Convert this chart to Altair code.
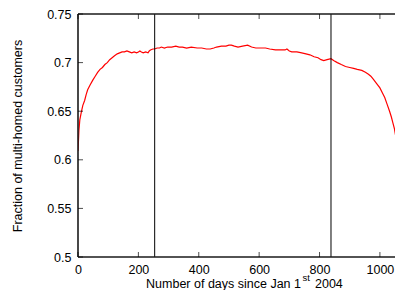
import altair as alt
import pandas as pd

# ---- data ----
days = [0, 3, 6, 11, 16, 22, 27, 32, 40, 49, 57, 65, 73, 81, 89, 97, 105, 113,
        121, 130, 138, 146, 154, 162, 170, 178, 186, 194, 200, 205, 210, 216,
        224, 232, 236, 240, 248, 254, 262, 270, 276, 286, 297, 310, 324, 335,
        346, 360, 375, 395, 410, 425, 438, 450, 459, 475, 490, 500, 508, 518,
        530, 545, 562, 575, 589, 605, 621, 635, 654, 670, 686, 692, 700, 708,
        725, 741, 755, 768, 782, 795, 805, 814, 825, 838, 848, 859, 872, 886,
        900, 913, 925, 940, 952, 962, 970, 978, 988, 1000, 1008, 1016, 1024,
        1032, 1038, 1043, 1048, 1052, 1056]
fraction = [0.609, 0.630, 0.641, 0.649, 0.656, 0.661, 0.667, 0.672, 0.677,
            0.682, 0.686, 0.690, 0.693, 0.695, 0.698, 0.700, 0.703, 0.705,
            0.707, 0.709, 0.710, 0.711, 0.711, 0.712, 0.711, 0.710, 0.711,
            0.710, 0.711, 0.712, 0.711, 0.710, 0.711, 0.710, 0.712, 0.713,
            0.714, 0.714, 0.715, 0.715, 0.716, 0.715, 0.716, 0.716, 0.717,
            0.716, 0.716, 0.715, 0.716, 0.715, 0.715, 0.714, 0.714, 0.715,
            0.716, 0.717, 0.717, 0.718, 0.718, 0.717, 0.716, 0.717, 0.718,
            0.716, 0.715, 0.715, 0.715, 0.714, 0.713, 0.713, 0.713, 0.714,
            0.712, 0.711, 0.711, 0.710, 0.709, 0.708, 0.706, 0.705, 0.703,
            0.702, 0.703, 0.704, 0.702, 0.700, 0.698, 0.696, 0.695, 0.694,
            0.693, 0.692, 0.690, 0.688, 0.686, 0.683, 0.679, 0.674, 0.669,
            0.664, 0.657, 0.650, 0.644, 0.638, 0.632, 0.625, 0.618]
event_days = [254, 838]
x_ticks = [0, 200, 400, 600, 800, 1000]
y_ticks = [0.5, 0.55, 0.6, 0.65, 0.7, 0.75]
x_domain = [0, 1050]
y_domain = [0.5, 0.75]

FONT = "Liberation Sans"
W, H = 317, 243

df = pd.DataFrame({"day": days, "frac": fraction})
ev = pd.DataFrame({"day": event_days})
xt = pd.DataFrame({"t": x_ticks})
yt = pd.DataFrame({"t": y_ticks})
one = pd.DataFrame({"a": [0]})

xs = alt.Scale(domain=x_domain, nice=False, zero=False)
ys = alt.Scale(domain=y_domain, nice=False, zero=False)

x_axis = alt.Axis(values=x_ticks, format="d", domain=False, ticks=False,
                  grid=False, labelFont=FONT, labelFontSize=12.5,
                  labelColor="black", labelPadding=6, labelFlush=False,
                  title=None)
y_axis = alt.Axis(values=y_ticks, format="~g", domain=False, ticks=False,
                  grid=False, labelFont=FONT, labelFontSize=12.5,
                  labelColor="black", labelPadding=7, labelFlush=False,
                  title="Fraction of multi-homed customers",
                  titleFont=FONT, titleFontSize=12.5, titleFontWeight="normal",
                  titleColor="black", titleX=-60.5, titleY=121.5,
                  titleAngle=270, titleAlign="center", titleBaseline="middle")

line = alt.Chart(df).mark_line(color="#ff0000", strokeWidth=1.2, clip=True).encode(
    x=alt.X("day:Q", scale=xs, axis=x_axis),
    y=alt.Y("frac:Q", scale=ys, axis=y_axis),
)

vlines = alt.Chart(ev).mark_rule(color="black", strokeWidth=1).encode(
    x=alt.X("day:Q", scale=xs)
)

border_kw = dict(color="#1a1a1a", strokeWidth=1.6)
left_b = alt.Chart(one).mark_rule(**border_kw).encode(x=alt.datum(x_domain[0]))
bottom_b = alt.Chart(one).mark_rule(**border_kw).encode(y=alt.datum(y_domain[0]))
top_b = alt.Chart(one).mark_rule(**border_kw).encode(y=alt.datum(y_domain[1]))

tick_kw = dict(color="black", thickness=1, size=5)
bt = alt.Chart(xt).mark_tick(orient="vertical", yOffset=-2.5, **tick_kw).encode(
    x="t:Q", y=alt.datum(y_domain[0]))
tt = alt.Chart(xt).mark_tick(orient="vertical", yOffset=2.5, **tick_kw).encode(
    x="t:Q", y=alt.datum(y_domain[1]))
lt = alt.Chart(yt).mark_tick(orient="horizontal", xOffset=2.5, **tick_kw).encode(
    y="t:Q", x=alt.datum(x_domain[0]))

txt_kw = dict(font=FONT, color="black", baseline="alphabetic")
t1 = alt.Chart(one).mark_text(text="Number of days since Jan 1", align="right",
                              fontSize=12.5, **txt_kw).encode(
    x=alt.value(223), y=alt.value(274))
t2 = alt.Chart(one).mark_text(text="st", align="left", fontSize=9.5, **txt_kw).encode(
    x=alt.value(224.5), y=alt.value(267))
t3 = alt.Chart(one).mark_text(text="2004", align="left", fontSize=12.5, **txt_kw).encode(
    x=alt.value(237), y=alt.value(274))

chart = alt.layer(line, vlines, left_b, bottom_b, top_b, bt, tt, lt, t1, t2, t3).properties(
    width=W, height=H,
    autosize=alt.AutoSizeParams(type="none"),
    padding={"left": 70, "top": 6, "right": 0, "bottom": 33},
).configure_view(stroke=None)

chart.save("out.html", embed_options={"renderer": "svg", "actions": False})
